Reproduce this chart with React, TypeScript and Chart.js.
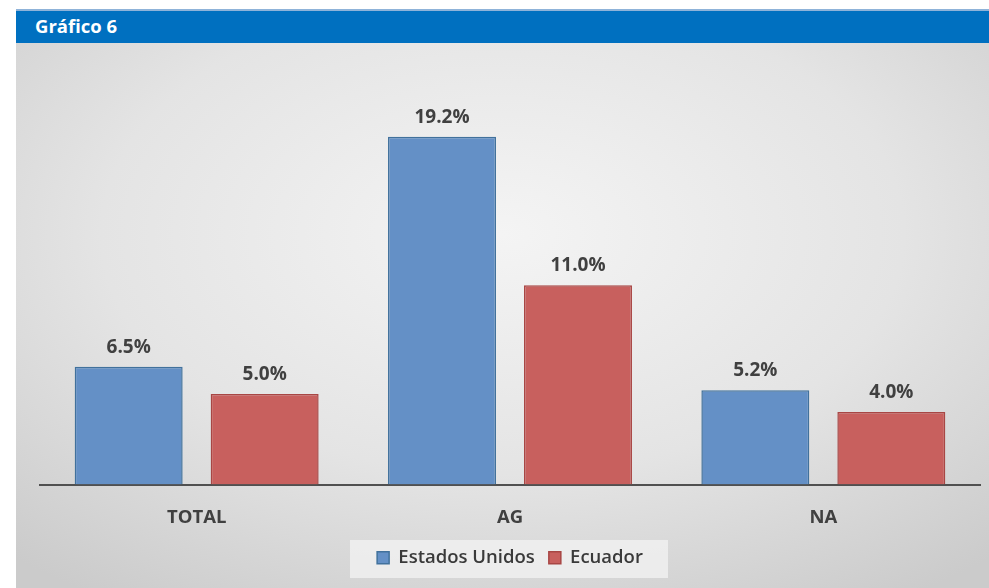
import React, { useEffect, useRef } from "react";
import { Chart, registerables } from "chart.js";

Chart.register(...registerables);

const categories = ["TOTAL", "AG", "NA"];
const estadosUnidos = [6.5, 19.2, 5.2];
const ecuador = [5.0, 11.0, 4.0];
const seriesNames = ["Estados Unidos", "Ecuador"];
const titleText = "Gráfico 6";

const FONT = "'Open Sans', 'Noto Sans', sans-serif";
const TEXT_COLOR = "#404040";

const legendBoxPlugin = {
  id: "legendBox",
  beforeDraw(chart: any) {
    const ctx = chart.ctx;
    ctx.save();
    ctx.fillStyle = "rgba(240,240,240,0.85)";
    ctx.fillRect(350, 540, 318, 38);
    ctx.restore();
  },
};

const dataLabelPlugin = {
  id: "dataLabels",
  afterDatasetsDraw(chart: any) {
    const ctx = chart.ctx;
    ctx.save();
    ctx.font = `bold 19px ${FONT}`;
    ctx.fillStyle = TEXT_COLOR;
    ctx.textAlign = "center";
    ctx.textBaseline = "alphabetic";
    chart.data.datasets.forEach((ds: any, di: number) => {
      const meta = chart.getDatasetMeta(di);
      meta.data.forEach((bar: any, i: number) => {
        const v = ds.data[i] as number;
        ctx.fillText(v.toFixed(1) + "%", bar.x, bar.y - 14);
      });
    });
    ctx.restore();
  },
};

export default function App() {
  const ref = useRef<HTMLCanvasElement>(null);

  useEffect(() => {
    document.body.style.margin = "0";
    if (!ref.current) return;
    const chart = new Chart(ref.current, {
      type: "bar",
      data: {
        labels: categories,
        datasets: [
          {
            label: seriesNames[0],
            data: estadosUnidos,
            backgroundColor: "#6490C6",
            borderColor: "#41719C",
            borderWidth: 1.5,
            categoryPercentage: 0.868,
            barPercentage: 0.794,
          },
          {
            label: seriesNames[1],
            data: ecuador,
            backgroundColor: "#C8605E",
            borderColor: "#A84644",
            borderWidth: 1.5,
            categoryPercentage: 0.868,
            barPercentage: 0.794,
          },
        ],
      },
      options: {
        animation: false,
        responsive: false,
        maintainAspectRatio: false,
        layout: { padding: { left: 40, right: 9, top: 86, bottom: 11 } },
        plugins: {
          tooltip: { enabled: false },
          legend: {
            position: "bottom",
            labels: {
              boxWidth: 12,
              boxHeight: 12,
              padding: 14,
              color: "#3a3a3a",
              font: { family: FONT, size: 18.5, weight: 600 },
            },
          },
        },
        scales: {
          x: {
            grid: { display: false, drawTicks: false },
            border: { display: true, color: "#505050", width: 2 },
            ticks: {
              color: TEXT_COLOR,
              padding: 22,
              font: { family: FONT, size: 18.5, weight: "bold" },
            },
            afterFit(scale: any) {
              scale.height = 50;
            },
          },
          y: {
            display: false,
            min: 0,
            max: 22,
          },
        },
      },
      plugins: [legendBoxPlugin, dataLabelPlugin],
    });
    return () => chart.destroy();
  }, []);

  return (
    <div style={{ position: "relative", width: 989, height: 588, background: "#ffffff", overflow: "hidden" }}>
      <div
        style={{
          position: "absolute",
          left: 16,
          top: 43,
          width: 973,
          height: 545,
          background: "radial-gradient(ellipse 75% 80% at 50% 35%, #f4f4f4 0%, #e4e4e4 55%, #cbcbcb 100%)",
        }}
      />
      <div
        style={{
          position: "absolute",
          left: 16,
          top: 9,
          width: 973,
          height: 34,
          background: "#0070C0",
          borderTop: "2px solid #8fb3d9",
          boxSizing: "border-box",
          color: "#ffffff",
          fontFamily: FONT,
          fontWeight: "bold",
          fontSize: 18.5,
          lineHeight: "30px",
          paddingLeft: 19,
        }}
      >
        {titleText}
      </div>
      <canvas ref={ref} width={989} height={588} style={{ position: "absolute", left: 0, top: 0 }} />
    </div>
  );
}
